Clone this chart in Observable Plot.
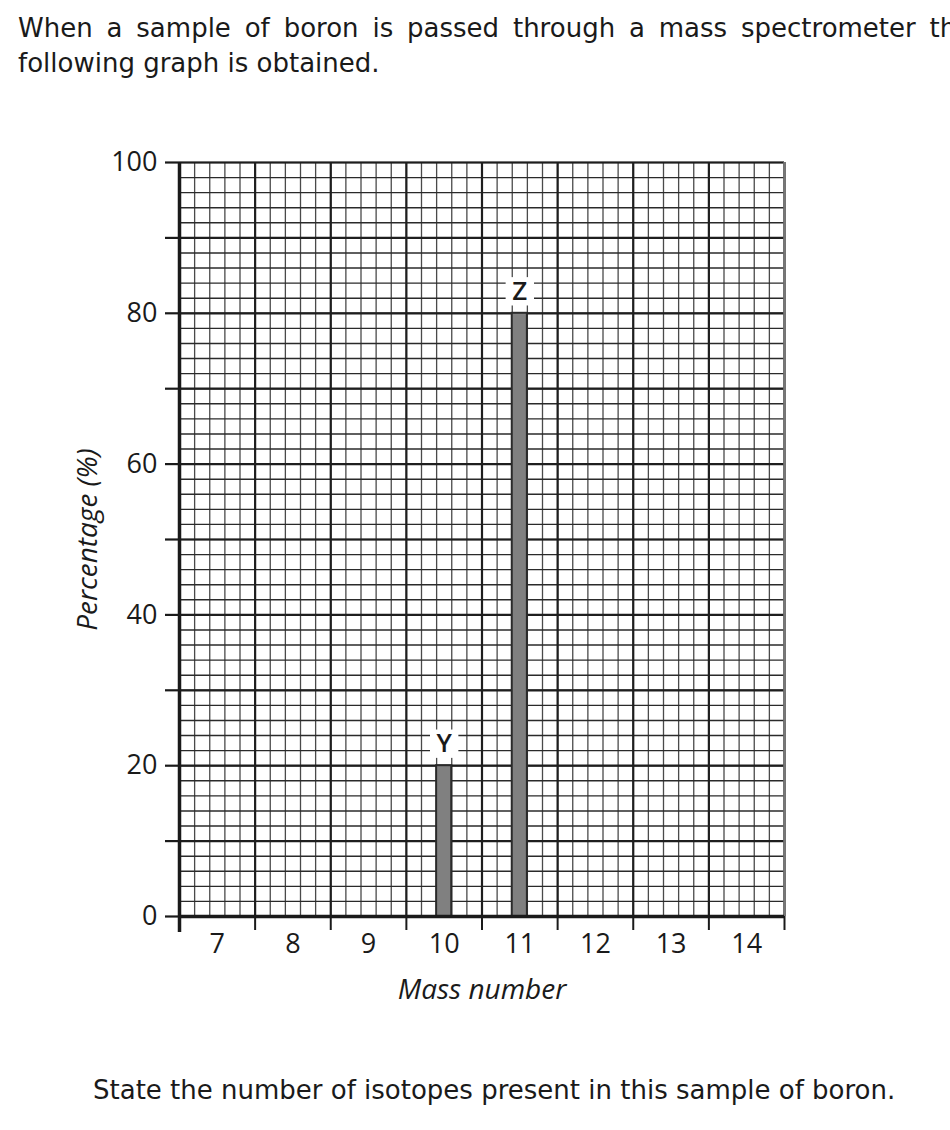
<!DOCTYPE html>
<html><head><meta charset="utf-8">
<script src="https://cdn.jsdelivr.net/npm/d3@7"></script>
<script src="https://cdn.jsdelivr.net/npm/@observablehq/plot@0.6"></script>
<style>
body{margin:0;width:950px;height:1130px;overflow:hidden;background:#fff;position:relative;font-family:"DejaVu Sans",sans-serif;color:#1a1a1a}
#title{position:absolute;left:18px;top:11px;font-size:26px;line-height:35px;white-space:nowrap;}
#l1{word-spacing:5.6px}
#chart{position:absolute;left:0;top:100px}
#q{position:absolute;left:93px;top:1075px;font-size:26px;white-space:nowrap}
</style></head><body>
<div id="title"><div id="l1">When a sample of boron is passed through a mass spectrometer the</div><div>following graph is obtained.</div></div>
<div id="chart"></div>
<div id="q">State the number of isotopes present in this sample of boron.</div>
<script>
const massNumbers = [10, 11];
const percentages = [20, 80];
const peakLabels = ["Y", "Z"];
const xTickLabels = [7, 8, 9, 10, 11, 12, 13, 14];
const xBoundaries = [6.5, 7.5, 8.5, 9.5, 10.5, 11.5, 12.5, 13.5, 14.5];
const yTicks = [0, 10, 20, 30, 40, 50, 60, 70, 80, 90, 100];
const yTickLabels = [0, 20, 40, 60, 80, 100];
const xTitle = "Mass number";
const yTitle = "Percentage (%)";

const peaks = massNumbers.map((m, i) => ({mass: m, pct: percentages[i], label: peakLabels[i]}));
const minorY = d3.range(0, 101, 2);
const minorX = d3.range(0, 41).map(i => 6.5 + i * 0.2);
const FONT = "'Open Sans', sans-serif";
const INK = "#1a1a1a";

const chart = Plot.plot({
  width: 950,
  height: 930,
  marginLeft: 179,
  marginRight: 166,
  marginTop: 62,
  marginBottom: 114,
  x: {type: "linear", domain: [6.5, 14.5], axis: null},
  y: {domain: [0, 100], axis: null},
  style: {fontFamily: FONT, color: INK, background: "white"},
  marks: [
    Plot.ruleX(minorX, {stroke: "#4a4a4a", strokeWidth: 1.3}),
    Plot.ruleY(minorY, {stroke: "#2a2a2a", strokeWidth: 1.4}),
    Plot.ruleY(yTicks, {stroke: "#1e1e1e", strokeWidth: 2.2}),
    Plot.ruleX(xBoundaries, {stroke: "#1e1e1e", strokeWidth: 2.2}),
    Plot.ruleX([14.5], {stroke: "#777", strokeWidth: 2.5}),
    Plot.rectY(peaks, {x1: d => d.mass - 0.1, x2: d => d.mass + 0.1, y: "pct", fill: "#808080", stroke: "#2a2a2a", strokeWidth: 2}),
    Plot.ruleX([6.5], {stroke: INK, strokeWidth: 3.5}),
    Plot.ruleY([0], {stroke: INK, strokeWidth: 3.5}),
    Plot.axisY({ticks: yTicks, tickSize: 14, tickPadding: 8, strokeWidth: 2.2, fontSize: 27, label: null,
      tickFormat: d => yTickLabels.includes(d) ? String(d) : ""}),
    Plot.axisX({ticks: xBoundaries, tickSize: 14, strokeWidth: 2, tickFormat: () => "", label: null}),
    Plot.axisX({ticks: [6.5], tickSize: 16, strokeWidth: 3.5, tickFormat: () => "", label: null}),
    Plot.axisX({ticks: xTickLabels, tickSize: 0, tickPadding: 17, fontSize: 27, label: null}),
    Plot.dot(peaks, {x: "mass", y: "pct", symbol: "square", r: 16, fill: "white", stroke: "none", dy: -22}),
    Plot.text(peaks, {x: "mass", y: "pct", text: "label", dy: -22, fontSize: 26, fontWeight: 600, fill: INK}),
    Plot.text([yTitle], {frameAnchor: "left", textAnchor: "middle", lineAnchor: "middle", rotate: -90, dx: -91, fontSize: 28, fontStyle: "italic", fill: INK}),
    Plot.text([xTitle], {frameAnchor: "bottom", textAnchor: "middle", lineAnchor: "middle", dy: 74, fontSize: 28, fontStyle: "italic", fill: INK})
  ]
});
document.getElementById("chart").appendChild(chart);
</script>
</body></html>
